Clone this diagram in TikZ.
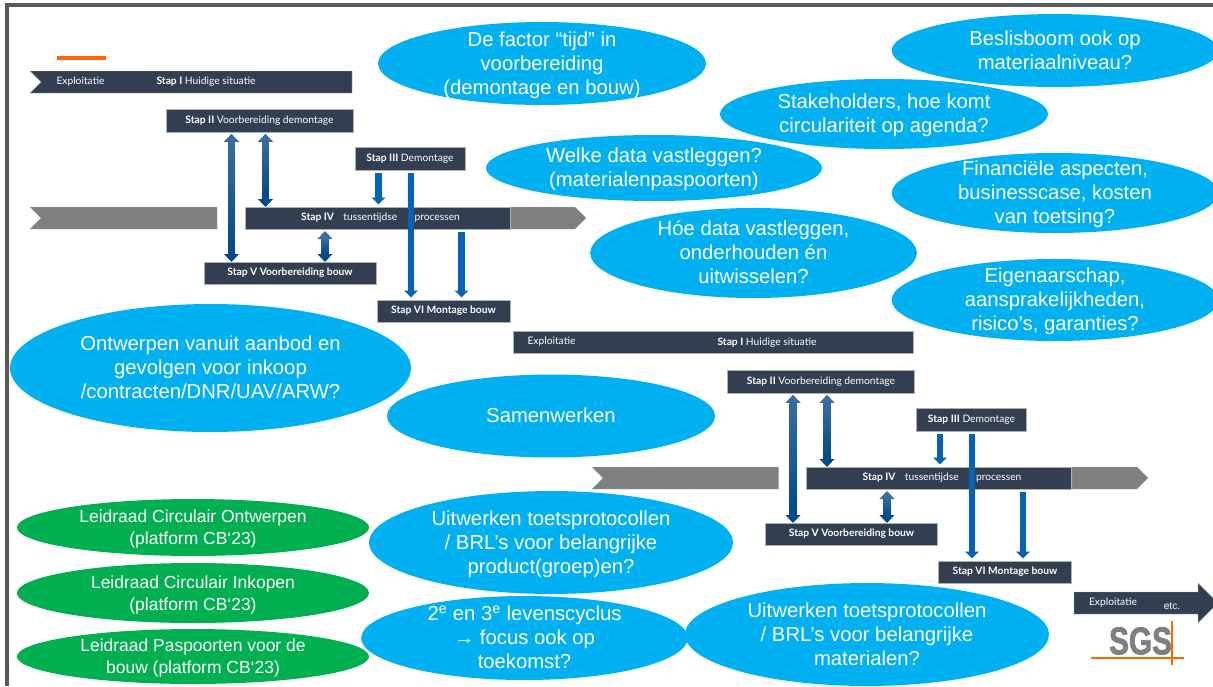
\documentclass[tikz,border=0pt]{standalone}
\usepackage{fontspec}
\setmainfont{Liberation Sans}
\newfontfamily\barfont{Lato}
\newfontfamily\sgsfont[BoldFeatures={FakeBold=2}]{Liberation Sans}
\usetikzlibrary{shapes.geometric,arrows.meta,calc}
\definecolor{bluefill}{HTML}{00B0F0}
\definecolor{greenfill}{HTML}{00B050}
\definecolor{barfill}{HTML}{333F50}
\definecolor{barline}{HTML}{A9B0BA}
\definecolor{greyfill}{HTML}{7F7F7F}
\definecolor{frameline}{HTML}{595959}
\definecolor{orangeline}{HTML}{FF6600}
\definecolor{linkblue}{HTML}{0563B5}
\definecolor{shadetop}{HTML}{3A6C9E}
\definecolor{shadebot}{HTML}{004A86}
\newcommand\ctext[1]{\makebox[0pt]{\smash{\raisebox{-0.34em}{\begin{tabular}{@{}c@{}}#1\end{tabular}}}}}
\newcommand\shlink[3]{%
  \draw[shadedlink] (#1 |- #2.south) -- (#1 |- #3.north);
  \shade[top color=shadetop,bottom color=shadebot]
    ($(#1 |- #2.south)+(-3.3,8)$) rectangle ($(#1 |- #3.north)+(3.3,-8)$);}
\tikzset{
  x=0.75pt,y=-0.75pt,
  oval/.style={ellipse,fill=bluefill,text=white,inner sep=0pt,outer sep=0pt,
    font=\fontsize{15.2}{18}\selectfont},
  goval/.style={ellipse,fill=greenfill,text=white,inner sep=0pt,outer sep=0pt,
    font=\fontsize{13.1}{16.5}\selectfont},
  stepbar/.style={rectangle,fill=barfill,draw=barline,line width=0.4pt,text=white,inner sep=0pt,
    outer sep=0pt,font=\barfont\fontsize{7.7}{9}\selectfont},
  bartext/.style={text=white,inner sep=0pt,font=\barfont\fontsize{7.7}{9}\selectfont},
  greybar/.style={fill=greyfill,draw=barline,line width=0.3pt},
  darkbar/.style={fill=barfill,draw=barline,line width=0.3pt},
  solidlink/.style={draw=linkblue,line width=5pt,
    -{Triangle[width=10pt,length=5pt,color=linkblue]},shorten <=2pt,shorten >=2pt},
  shadedlink/.style={draw=shadebot,line width=4.8pt,
    {Triangle[width=11pt,length=6pt,color=shadetop]}-{Triangle[width=11pt,length=6pt,color=shadebot]},
    shorten <=1.5pt,shorten >=0pt},
}
\begin{document}
\begin{tikzpicture}
\clip (0,0) rectangle (1213,686);
\fill[white] (0,0) rectangle (1213,686);
% frame
\fill[frameline] (5,3) rectangle (1213,6.5);
\fill[frameline] (5,3) rectangle (8.5,686);
\fill[orangeline] (57,56) rectangle (106,59.5);

% ---------- first process
\draw[darkbar] (30,71) -- (352,71) -- (352,93) -- (30,93) -- (41,82) -- cycle;
\node[bartext] (e1) at (80.5,82) {Exploitatie};
\node[bartext] (t1) at (206,82) {\textbf{Stap I} Huidige situatie};
\draw[greybar] (30,207) -- (217,207) -- (217,229) -- (30,229) -- (41,218) -- cycle;
\draw[greybar] (510,207) -- (575,207) -- (586,218) -- (575,229) -- (510,229) -- cycle;
\node[stepbar,minimum width=140.5pt,minimum height=17pt] (a2) at (259.5,120.5) {\textbf{Stap II} Voorbereiding demontage};
\node[stepbar,minimum width=82.5pt,minimum height=17.5pt] (a3) at (410,159) {\textbf{Stap III} Demontage};
\node[stepbar,minimum width=199pt,minimum height=16.5pt] (a4) at (377.5,218) {\hspace{4.5pt}\textbf{Stap IV}\hspace{7pt}tussentijdse\hspace{13pt}processen};
\node[stepbar,minimum width=129pt,minimum height=16.5pt] (a5) at (290,273) {\textbf{Stap V Voorbereiding bouw}};
\node[stepbar,minimum width=100pt,minimum height=16.5pt] (a6) at (443.5,311) {\textbf{Stap VI Montage bouw}};
\coordinate (ax1) at (231.5,0);
\coordinate (ax2) at (265.5,0);
\coordinate (ax3) at (325,0);
\coordinate (ax4) at (378.5,0);
\coordinate (ax5) at (411,0);
\coordinate (ax6) at (461.5,0);
\shlink{ax1}{a2}{a5}
\shlink{ax2}{a2}{a4}
\shlink{ax3}{a4}{a5}
\draw[solidlink] (ax4 |- a3.south) -- (ax4 |- a4.north);
\draw[solidlink] (ax5 |- a3.south) -- (ax5 |- a6.north);
\draw[solidlink] (ax6 |- a4.south) -- (ax6 |- a6.north);

% ---------- second process
\draw[darkbar] (513,331) rectangle (913.5,353);
\node[bartext] (e2) at (551.5,342) {Exploitatie};
\node[bartext] (t2) at (767,342.5) {\textbf{Stap I} Huidige situatie};
\draw[greybar] (592,467) -- (778.5,467) -- (778.5,489) -- (592,489) -- (603,478) -- cycle;
\draw[greybar] (1072,467) -- (1137,467) -- (1148,478) -- (1137,489) -- (1072,489) -- cycle;
\node[stepbar,minimum width=140.5pt,minimum height=17pt] (b2) at (821,381.5) {\textbf{Stap II} Voorbereiding demontage};
\node[stepbar,minimum width=82.5pt,minimum height=17.5pt] (b3) at (971.5,419.5) {\textbf{Stap III} Demontage};
\node[stepbar,minimum width=199pt,minimum height=16.5pt] (b4) at (939,478) {\hspace{4.5pt}\textbf{Stap IV}\hspace{7pt}tussentijdse\hspace{13pt}processen};
\node[stepbar,minimum width=129pt,minimum height=16.5pt] (b5) at (851.5,534) {\textbf{Stap V Voorbereiding bouw}};
\node[stepbar,minimum width=100pt,minimum height=16.5pt] (b6) at (1005,572) {\textbf{Stap VI Montage bouw}};
\coordinate (bx1) at (793,0);
\coordinate (bx2) at (827,0);
\coordinate (bx3) at (887,0);
\coordinate (bx4) at (940,0);
\coordinate (bx5) at (972,0);
\coordinate (bx6) at (1023,0);
\shlink{bx1}{b2}{b5}
\shlink{bx2}{b2}{b4}
\shlink{bx3}{b4}{b5}
\draw[solidlink] (bx4 |- b3.south) -- (bx4 |- b4.north);
\draw[solidlink] (bx5 |- b3.south) -- (bx5 |- b6.north);
\draw[solidlink] (bx6 |- b4.south) -- (bx6 |- b6.north);

% exit arrow
\draw[darkbar] (1074,592) -- (1198,592) -- (1198,583) -- (1218,603) -- (1198,623) -- (1198,614) -- (1074,614) -- cycle;
\node[bartext] (e3) at (1113,602.5) {Exploitatie};
\node[bartext,font=\fontsize{7.6}{9}\selectfont] (e4) at (1172,606) {etc.};

% SGS logo
\node[text=greyfill,inner sep=0pt] (sgs) at (1140.5,641) {\scalebox{0.77}[1]{\sgsfont\bfseries\fontsize{29}{30}\selectfont SGS}};
\draw[orangeline,line width=1.1pt] (1091,658) -- (1184,658);
\draw[orangeline,line width=1.1pt] (1172,621) -- (1172,665);

% ---------- blue ovals
\node[oval,minimum width=246pt,minimum height=62.2pt] (o1) at (542,63.5) {\ctext{De factor “tijd” in\\voorbereiding\\(demontage en bouw)}};
\node[oval,minimum width=245pt,minimum height=54.7pt] (o2) at (1055,50.5) {\ctext{Beslisboom ook op\\materiaalniveau?}};
\node[oval,minimum width=246pt,minimum height=52.5pt] (o3) at (884,114) {\ctext{Stakeholders, hoe komt\\circulariteit op agenda?}};
\node[oval,minimum width=252pt,minimum height=49.5pt] (o4) at (654,168) {\ctext{Welke data vastleggen?\\(materialenpaspoorten)}};
\node[oval,minimum width=245pt,minimum height=60pt] (o5) at (1055,193) {\ctext{Financiële aspecten,\\businesscase, kosten\\van toetsing?}};
\node[oval,minimum width=245pt,minimum height=67.5pt] (o6) at (753.5,253) {\ctext{Hóe data vastleggen,\\onderhouden én\\uitwisselen?}};
\node[oval,minimum width=245pt,minimum height=61.5pt] (o7) at (1055,300) {\ctext{Eigenaarschap,\\aansprakelijkheden,\\risico’s, garanties?}};
\node[oval,minimum width=300.7pt,minimum height=96pt] (o8) at (210.5,368) {\ctext{Ontwerpen vanuit aanbod en\\gevolgen voor inkoop\\/contracten/DNR/UAV/ARW?}};
\node[oval,minimum width=246pt,minimum height=62.2pt] (o9) at (551,416) {\ctext{Samenwerken}};
\node[oval,minimum width=273pt,minimum height=77.2pt] (o10) at (551,542.5) {\ctext{Uitwerken toetsprotocollen\\/ BRL’s voor belangrijke\\product(groep)en?}};
\node[oval,minimum width=245pt,minimum height=63pt] (o11) at (524.5,638) {\ctext{2\textsuperscript{e} en 3\textsuperscript{e} levenscyclus\\→ focus ook op\\toekomst?}};
\node[oval,minimum width=273pt,minimum height=77.2pt] (o12) at (867,634.5) {\ctext{Uitwerken toetsprotocollen\\/ BRL’s voor belangrijke\\materialen?}};

% ---------- green ovals
\node[goval,minimum width=264pt,minimum height=42.7pt] (g1) at (193,527.5) {\ctext{Leidraad Circulair Ontwerpen\\(platform CB‘23)}};
\node[goval,minimum width=264pt,minimum height=45pt] (g2) at (193,593) {\ctext{Leidraad Circulair Inkopen\\(platform CB‘23)}};
\node[goval,minimum width=264pt,minimum height=41.2pt] (g3) at (193,656.5) {\ctext{Leidraad Paspoorten voor de\\bouw (platform CB‘23)}};
\end{tikzpicture}
\end{document}
